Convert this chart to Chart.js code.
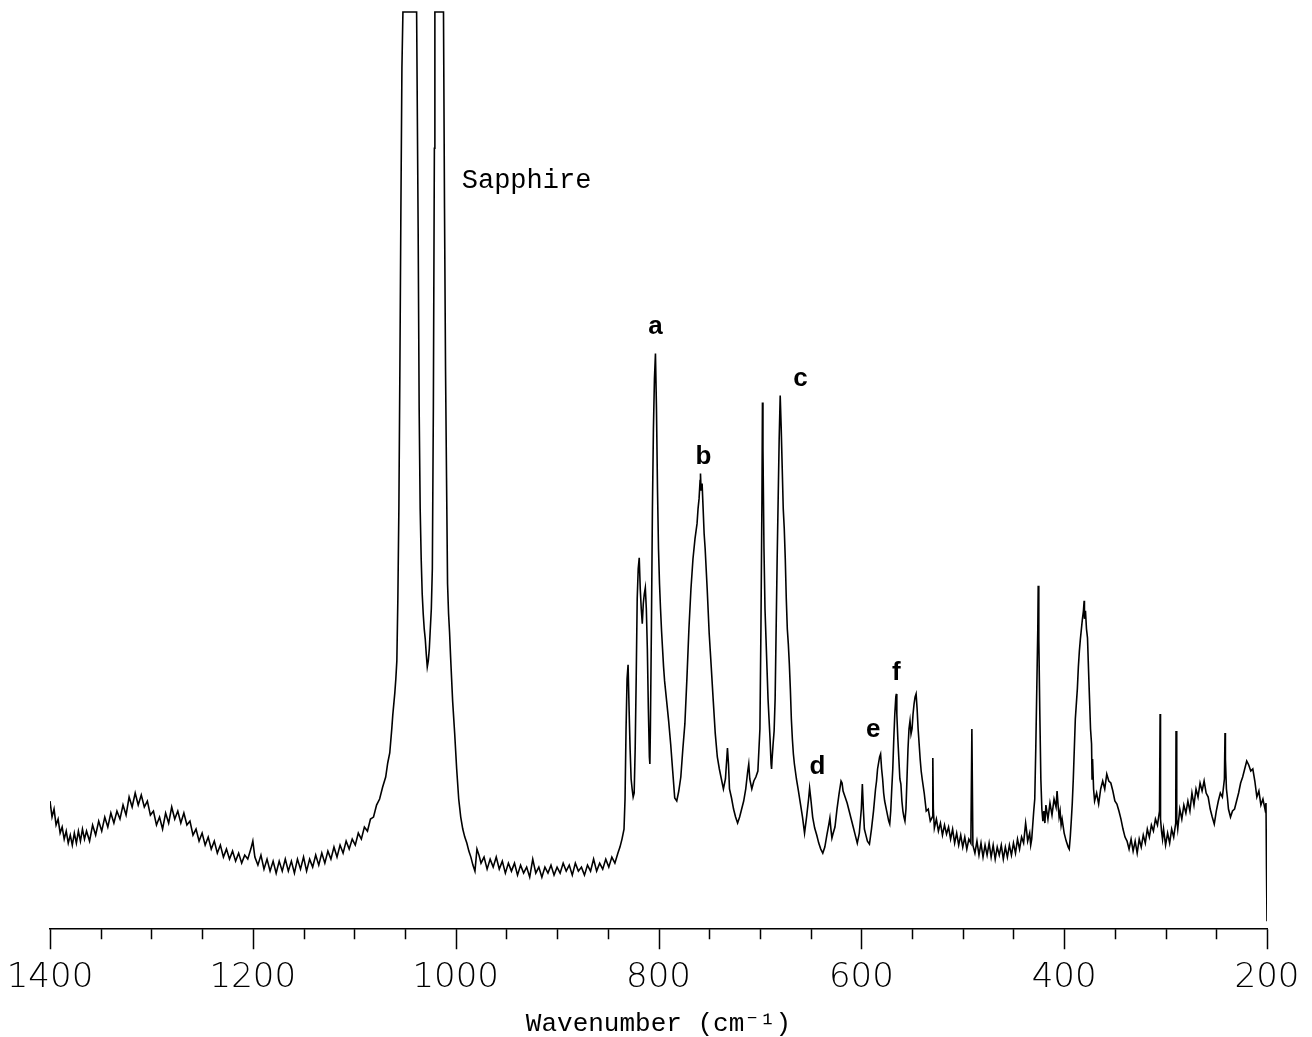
<!DOCTYPE html>
<html>
<head>
<meta charset="utf-8">
<title>Raman spectrum</title>
<script src="https://cdn.jsdelivr.net/npm/chart.js@4.4.0/dist/chart.umd.min.js"></script>
<style>
    html, body { margin: 0; padding: 0; background: #fff; }
    #wrap { width: 1312px; height: 1037px; }
</style>
</head>
<body>
<div id="wrap"><canvas id="spectrum"></canvas></div>
<script>
const wavenumber = [
    1400, 1398, 1396, 1394, 1392, 1390, 1388, 1386, 1384, 1382,
    1380, 1378, 1376, 1374, 1372, 1370, 1368, 1366, 1364, 1361,
    1358, 1355, 1352, 1349, 1346, 1343, 1340, 1337, 1334, 1331,
    1328, 1325, 1322, 1319, 1316, 1313, 1310, 1307, 1304, 1301,
    1298, 1295, 1292, 1289, 1286, 1283, 1280, 1277, 1274, 1271,
    1268, 1265, 1262, 1259, 1256, 1253, 1250, 1247, 1244, 1241,
    1238, 1235, 1232, 1229, 1226, 1223, 1220, 1217, 1214, 1211,
    1208, 1205, 1202, 1200, 1198, 1195, 1192, 1189, 1186, 1183,
    1180, 1177, 1174, 1171, 1168, 1165, 1162, 1159, 1156, 1153,
    1150, 1147, 1144, 1141, 1138, 1135, 1132, 1129, 1126, 1123,
    1120, 1117, 1114, 1111, 1108, 1105, 1102, 1099, 1096, 1093,
    1090, 1087, 1084, 1081, 1078, 1075, 1072, 1069, 1067, 1065,
    1063, 1062, 1060, 1059, 1058, 1057, 1056, 1055, 1054, 1053,
    // sapphire
    1052, 1045, 1038.5, 1037, 1036, 1035, 1034, 1033, 1032, 1031,
    1030, 1029, 1028, 1027, 1026, 1025, 1024, 1023, 1022, 1021,
    1020.5, 1016, 1012, 1011, 1010, 1009, 1008, 1007, 1006, 1005,
    1004, 1003, 1001, 999, 997, 995, 993, 991, 989, 987,
    985, 983, 981, 979, 977, 975, 972, 969, 966, 963,
    960, 957, 954, 951, 948, 945, 942, 939, 936, 933,
    930, 927, 924, 921, 918, 915, 912, 909, 906, 903,
    900, 897, 894, 891, 888, 885, 882, 879, 876, 873,
    870, 867, 864, 861, 858, 855, 852, 849, 846, 843,
    // sample bands
    840, 838, 836, 834, 833, 832, 831, 830, 829, 828,
    827, 826, 825, 824, 823, 822, 821, 820, 819, 818,
    817, 816, 815, 814, 813, 812, 811, 810, 809, 808.5,
    808, 807, 806, 805, 804, 803, 802, 801, 800, 799,
    798, 797, 796, 795, 794, 792, 790, 788, 786, 784,
    782, 780, 778, 776, 774, 772, 770, 768, 766, 764,
    762, 761, 760, 759, 758.6, 758, 757, 756, 755, 754,
    752, 750, 748, 746, 744, 742, 740, 738, 736, 734,
    732, 731, 730, 728, 726, 724, 722, 720, 718, 716,
    714, 712, 711, 710, 708, 706, 704, 702, 700, 699,
    698, 697.5, 697, 696, 695, 694, 693, 692, 691, 690,
    689, 688.5, 688, 687, 686, 685, 684, 683, 682, 681,
    680, 679, 678, 677, 676, 675, 674, 673, 672, 671,
    670, 669, 668, 667, 666, 664, 662, 660, 658, 656,
    654, 652, 651, 650, 648, 646, 644, 642, 640, 638,
    636, 634, 632, 631, 630, 629, 628, 626, 624, 622,
    620, 619, 618, 616, 614, 612, 610, 608, 606, 604,
    602, 600, 599, 598, 597, 596, 594, 592, 590, 588,
    586, 585, 584, 582, 581, 580, 579, 578, 577, 575,
    573, 572, 571, 570, 569, 568, 567, 566, 565.5, 565,
    564, 563, 562, 561, 560, 559, 558, 557, 556, 555,
    554, 553, 552, 551, 550, 549, 548, 547, 546, 545,
    544, 543, 542, 541, 540, 538, 536, 534, 532, 530,
    529.5, 529, 528, 526, 524, 522, 520, 518, 516, 514,
    512, 510, 508, 506, 504, 502, 500, 498, 496, 494,
    492, 491, 490, 488, 486, 484, 482, 480, 478, 476,
    474, 472, 470, 468, 466, 464, 462, 460, 458, 456,
    454, 452, 450, 448, 446, 444, 442, 440, 438, 437,
    436, 434, 433, 432, 431, 430, 429, 428, 427, 426,
    425.6, 425, 424, 423, 422, 421, 420, 419, 418, 416,
    414, 412, 410, 408, 407, 406, 405, 404, 403, 402,
    400, 398, 396, 395, 394, 393, 392, 391, 390, 389,
    388, 387, 386, 385, 384, 383, 382, 381, 380.3, 380,
    379, 378, 377, 376, 375, 374, 373, 372.5, 372, 371,
    370, 368, 366, 364, 362, 360, 358, 356, 354, 352,
    350, 348, 346, 344, 342, 340, 338, 336, 334, 332,
    330, 328, 326, 324, 322, 320, 318, 316, 314, 312,
    310, 308, 306, 305.4, 305, 304, 303, 302, 300, 298,
    296, 294, 292, 290, 289.7, 289, 288, 286, 284, 282,
    280, 278, 276, 274, 272, 270, 268, 266, 264, 262,
    260, 258, 256, 254, 252, 250, 248, 246, 244, 242,
    241.4, 241, 240, 239, 238, 236, 234, 232, 230, 228,
    226, 224, 222, 220, 218, 216, 214, 212, 210, 208,
    206, 204, 202, 201, 200.5, 200
];

// Raman intensity (arb. units, 0 = axis line), same order as wavenumber
const intensity = [
    128, 112, 120, 104, 110, 96, 102, 90, 98, 86,
    94, 84, 96, 86, 98, 88, 100, 90, 98, 88,
    104, 94, 108, 98, 112, 102, 116, 106, 118, 110,
    124, 114, 132, 122, 136, 124, 134, 122, 128, 114,
    118, 104, 112, 100, 116, 106, 122, 110, 118, 106,
    116, 104, 108, 94, 100, 88, 96, 84, 92, 80,
    88, 76, 84, 72, 80, 70, 78, 68, 76, 66,
    74, 70, 80, 88, 72, 64, 74, 60, 70, 58,
    68, 56, 68, 58, 70, 58, 68, 56, 70, 60,
    72, 58, 70, 62, 74, 64, 76, 66, 78, 70,
    82, 72, 84, 76, 88, 80, 90, 84, 96, 90,
    102, 98, 110, 112, 124, 130, 142, 152, 166, 176,
    200, 214, 236, 250, 268, 330, 420, 560, 720, 860,
    // sapphire
    916, 916, 916, 700, 520, 420, 370, 335, 315, 300,
    290, 275, 262, 268, 280, 300, 320, 360, 520, 780,
    916, 916, 916, 720, 560, 450, 345, 315, 296, 272,
    250, 228, 196, 160, 130, 112, 100, 92, 86, 78,
    72, 64, 58, 80, 74, 66, 72, 60, 70, 62,
    72, 60, 68, 56, 66, 58, 66, 54, 64, 56,
    62, 52, 70, 56, 62, 52, 62, 56, 64, 54,
    62, 56, 66, 58, 64, 54, 66, 58, 62, 54,
    64, 58, 70, 58, 66, 60, 70, 62, 72, 66,
    // sample bands
    76, 82, 90, 100, 130, 200, 250, 264, 220, 180,
    150, 140, 132, 136, 180, 250, 330, 360, 371, 340,
    320, 305, 325, 335, 341, 320, 280, 220, 172, 165,
    200, 300, 420, 500, 550, 575, 520, 440, 380, 345,
    320, 298, 280, 262, 248, 228, 208, 185, 158, 131,
    128, 138, 152, 180, 205, 250, 300, 340, 370, 390,
    405, 420, 430, 448, 455, 438, 445, 420, 395, 380,
    340, 295, 262, 228, 195, 172, 160, 150, 140, 150,
    181, 165, 140, 131, 120, 112, 106, 112, 120, 128,
    140, 158, 165, 150, 140, 148, 152, 158, 200, 300,
    430, 526, 480, 380, 320, 290, 260, 230, 210, 190,
    165, 160, 170, 185, 198, 230, 300, 370, 430, 490,
    533, 500, 460, 420, 400, 370, 330, 300, 285, 265,
    240, 210, 190, 175, 165, 150, 138, 125, 112, 96,
    112, 130, 141, 132, 112, 101, 94, 86, 80, 76,
    82, 94, 105, 111, 100, 91, 95, 102, 120, 135,
    148, 146, 138, 132, 126, 118, 110, 102, 94, 86,
    96, 120, 145, 120, 100, 96, 88, 85, 100, 118,
    140, 148, 160, 172, 175, 160, 150, 136, 128, 118,
    108, 105, 118, 140, 160, 190, 215, 232, 235, 215,
    190, 170, 150, 145, 128, 118, 112, 108, 120, 150,
    180, 200, 208, 195, 200, 215, 225, 232, 235, 220,
    200, 185, 170, 158, 150, 136, 118, 120, 108, 112,
    171, 120, 101, 110, 98, 106, 94, 104, 95, 102,
    90, 100, 86, 96, 84, 94, 82, 92, 80, 90,
    86, 200, 84, 76, 88, 74, 86, 72, 84, 74,
    86, 72, 84, 70, 82, 74, 84, 70, 82, 72,
    84, 74, 86, 76, 90, 80, 92, 86, 106, 98,
    88, 96, 84, 90, 104, 118, 130, 180, 240, 300,
    343, 290, 215, 150, 120, 108, 118, 106, 124, 110,
    126, 114, 130, 122, 138, 124, 112, 118, 104, 110,
    96, 88, 82, 80, 92, 108, 126, 150, 180, 210,
    225, 240, 262, 278, 290, 300, 310, 318, 328, 310,
    318, 300, 291, 260, 230, 200, 185, 150, 170, 140,
    128, 136, 125, 140, 148, 140, 155, 148, 146, 138,
    128, 125, 118, 110, 100, 92, 88, 80, 90, 78,
    88, 76, 90, 82, 94, 86, 100, 92, 104, 98,
    110, 104, 118, 215, 110, 98, 90, 100, 84, 96,
    86, 100, 92, 106, 198, 110, 100, 120, 110, 124,
    116, 128, 118, 136, 124, 140, 132, 146, 138, 148,
    136, 132, 120, 112, 105, 118, 128, 136, 132, 150,
    196, 170, 140, 131, 120, 112, 118, 120, 128, 136,
    146, 152, 160, 168, 164, 158, 160, 148, 132, 138,
    124, 130, 120, 126, 60, 8
];

// axis tick values
const majorTicks = [1400, 1200, 1000, 800, 600, 400, 200];
const minorTicks = [1350, 1300, 1250, 1150, 1100, 1050, 950, 900, 850, 750, 700, 650, 550, 500, 450, 350, 300, 250];

// band labels and where they sit (wavenumber, intensity)
const bandNames = ['a', 'b', 'c', 'd', 'e', 'f'];
const bandLabelWn = [803, 755.7, 660, 643.4, 588.2, 565.5];
const bandLabelLevel = [602, 472, 550, 162, 199, 256];

const points = wavenumber.map(function (w, i) {
    return { x: w, y: intensity[i] };
});

// tick marks below the axis and the text labels inside the plot
const decorations = {
    id: 'decorations',
    afterDraw: function (chart) {
        const ctx = chart.ctx;
        const xs = chart.scales.x;
        const ys = chart.scales.y;
        const base = chart.chartArea.bottom;
        ctx.save();
        ctx.strokeStyle = '#000';
        ctx.lineWidth = 1.5;
        ctx.beginPath();
        majorTicks.forEach(function (v) {
            const px = Math.round(xs.getPixelForValue(v)) + 0.5;
            ctx.moveTo(px, base);
            ctx.lineTo(px, base + 20);
        });
        minorTicks.forEach(function (v) {
            const px = Math.round(xs.getPixelForValue(v)) + 0.5;
            ctx.moveTo(px, base);
            ctx.lineTo(px, base + 10);
        });
        ctx.stroke();

        ctx.fillStyle = '#000';
        ctx.font = 'bold 26px "Liberation Sans", Arial, sans-serif';
        ctx.textAlign = 'center';
        ctx.textBaseline = 'middle';
        bandNames.forEach(function (name, i) {
            ctx.fillText(name, xs.getPixelForValue(bandLabelWn[i]), ys.getPixelForValue(bandLabelLevel[i]));
        });

        ctx.font = '27px "Liberation Mono", "DejaVu Sans Mono", monospace';
        ctx.textAlign = 'left';
        ctx.fillText('Sapphire', xs.getPixelForValue(994), ys.getPixelForValue(747));
        ctx.restore();
    }
};

const ctx = document.getElementById('spectrum').getContext('2d');
const spectrumChart = new Chart(ctx, {
    type: 'line',
    data: {
        datasets: [{
            label: 'Raman',
            data: points,
            borderColor: '#000',
            borderWidth: 1.6,
            pointRadius: 0,
            tension: 0,
            fill: false
        }]
    },
    options: {
        responsive: true,
        maintainAspectRatio: false,
        animation: false,
        layout: {
            padding: { left: 50, right: 45, top: 10, bottom: 0 }
        },
        plugins: {
            legend: { display: false },
            tooltip: { enabled: false }
        },
        scales: {
            x: {
                type: 'linear',
                min: 200,
                max: 1400,
                reverse: true,
                border: { display: true, color: '#000', width: 1.5 },
                grid: { display: false, drawTicks: false },
                ticks: {
                    stepSize: 200,
                    autoSkip: false,
                    maxRotation: 0,
                    padding: 29,
                    color: '#000',
                    font: { family: '"DejaVu Sans", sans-serif', size: 34, weight: 200 },
                    callback: function (value) {
                        return String(value);
                    }
                },
                title: {
                    display: true,
                    text: 'Wavenumber (cm⁻¹)',
                    color: '#000',
                    font: { family: '"Liberation Mono", "DejaVu Sans Mono", monospace', size: 26, lineHeight: 1 },
                    padding: { top: -17, bottom: 0 }
                },
                afterFit: function (scale) {
                    // end labels may hang past the plot edges, like the original
                    scale.paddingLeft = 0;
                    scale.paddingRight = 0;
                }
            },
            y: {
                display: false,
                min: 0,
                max: 918
            }
        }
    },
    plugins: [decorations]
});
</script>
</body>
</html>
